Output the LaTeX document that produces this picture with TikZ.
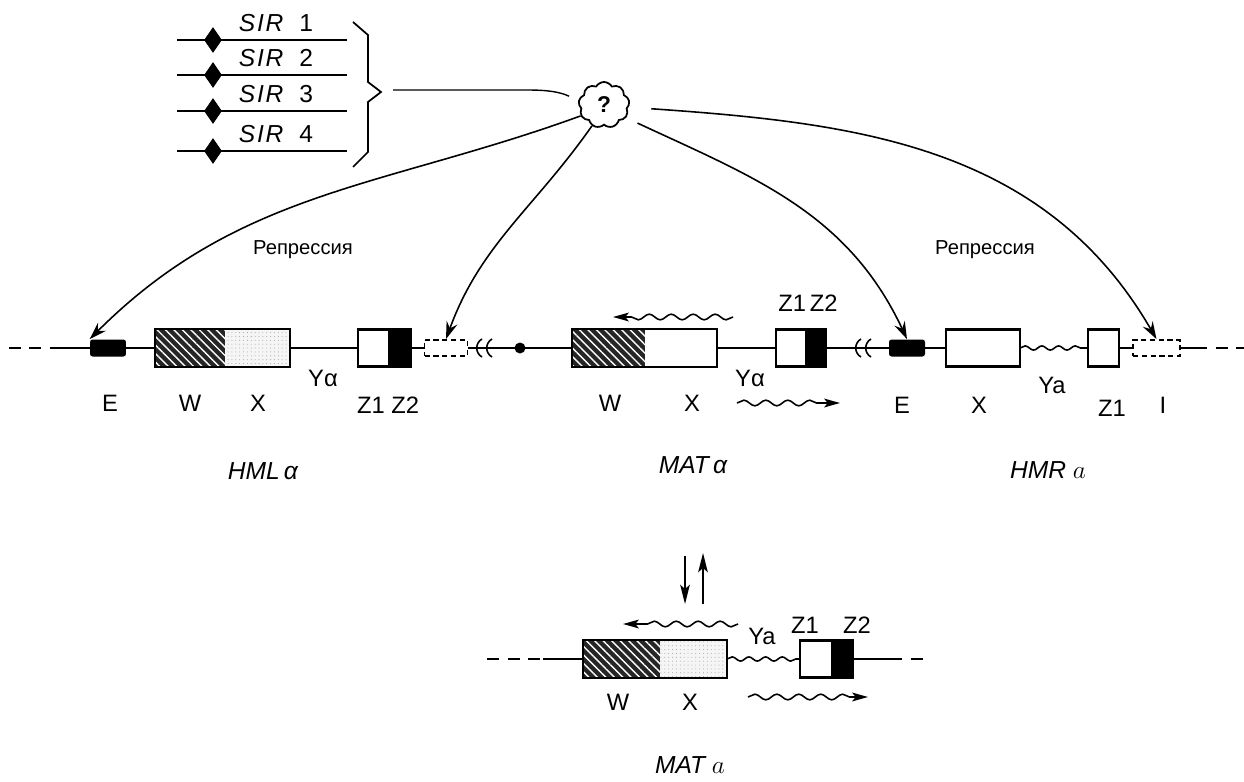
\documentclass[tikz,border=0pt]{standalone}
\usepackage{fontspec}
\setmainfont{Liberation Sans}
\usetikzlibrary{arrows.meta, positioning, backgrounds, shapes.geometric, shapes.symbols, patterns.meta, decorations.pathmorphing}

\begin{document}
\begin{tikzpicture}[
    x = 0.02cm,
    y = 0.02cm,
    every node/.style = {font=\fontsize{13.5}{15}\selectfont, inner sep=1pt},
    chrom/.style = {line width=1.2pt},
    chromdash/.style = {line width=1.2pt, dash pattern=on 0.24cm off 0.17cm},
    ybit/.style = {
        line width=0.9pt,
        decorate,
        decoration={snake, amplitude=1.2pt, segment length=9.5pt}
    },
    blk/.style = {
        rectangle,
        inner sep=0pt,
        outer sep=0pt,
        minimum height=0.76cm
    },
    hatch/.style = {
        blk,
        preaction={fill=black!85},
        pattern={Lines[angle=-45, distance=3.4pt, line width=0.8pt]},
        pattern color=white
    },
    stipple/.style = {
        blk,
        preaction={fill=gray!8},
        pattern={Dots[distance=2.2pt, radius=0.3pt]},
        pattern color=gray!70
    },
    plainbox/.style = {blk, fill=white},
    wxframe/.style = {line width=1.6pt},
    zbox/.style = {
        rectangle,
        draw,
        fill=white,
        line width=1.6pt,
        inner sep=0pt,
        outer sep=0pt,
        minimum width=0.62cm,
        minimum height=0.74cm
    },
    zdark/.style = {zbox, fill=black, minimum width=0.44cm},
    enh/.style = {
        rectangle,
        fill=black,
        rounded corners=1.5pt,
        inner sep=0pt,
        minimum width=0.72cm,
        minimum height=0.34cm
    },
    sil/.style = {
        rectangle,
        draw,
        fill=white,
        dash pattern=on 3pt off 2pt,
        line width=1pt,
        inner sep=0pt,
        minimum width=0.86cm,
        minimum height=0.32cm
    },
    locus/.style = {font=\fontsize{14}{16}\selectfont\itshape},
    rep/.style = {
        -{Stealth[length=10pt, width=6.5pt, inset=3.5pt]},
        line width=0.9pt
    },
    tx/.style = {
        -{Stealth[length=9pt, width=5pt, inset=2pt]},
        line width=0.9pt,
        decorate,
        decoration={snake, amplitude=1.6pt, segment length=12.5pt, post length=9pt}
    },
    switch/.style = {
        -{Stealth[length=11pt, width=5.5pt, inset=2.5pt]},
        line width=1pt
    }
]

\useasboundingbox (0,0) rectangle (1244,-781);

%% SIR genes
\foreach \y/\n in {40/1, 75/2, 111/3, 151/4} {
    \draw[line width=0.8pt] (177,-\y) -- (347,-\y);
    \node[diamond, fill=black, inner sep=0pt, minimum width=0.36cm, minimum height=0.52cm]
        (sirdia\n) at (213,-\y) {};
    \node[font=\fontsize{14}{16}\selectfont] (sir\n) at (276,-\y+17)
        {\textit{S\kern1pt I\kern1pt R}\hspace{9pt}\n};
}

%% Brace and the common product
\coordinate (brtip) at (381,-92);
\draw[line width=1pt] (353,-22) -- (368,-35) -- (368,-82) -- (brtip)
    -- (368,-102) -- (368,-152) -- (353,-167);
\node[cloud, draw, line width=1pt, cloud puffs=9, cloud puff arc=120, aspect=1.1,
      inner sep=0pt, minimum width=1.02cm, minimum height=0.92cm,
      font=\fontsize{13}{15}\selectfont\bfseries] (qcloud) at (604,-105) {?};
\coordinate (brout) at (393,-90);
\draw[line width=0.8pt, shorten >=0.2cm] (brout) -- (527,-90) to[out=0, in=155] (qcloud.170);

%% HML alpha
\node[enh]                                    (hmlE)  at (108,-348) {};
\node[hatch, minimum width=1.4cm]             (hmlW)  at (190,-348) {};
\node[stipple, minimum width=1.3cm, right=0pt of hmlW] (hmlX) {};
\node[zbox]                                   (hmlZ1) at (373.5,-348) {};
\node[zdark, right=0pt of hmlZ1]              (hmlZ2) {};
\node[sil]                                    (hmlI)  at (446,-348) {};
\draw[wxframe] (hmlW.north west) rectangle (hmlX.south east);

%% MAT alpha
\node[circle, fill=black, inner sep=0pt, minimum size=0.22cm] (cen) at (520,-348) {};
\node[hatch, minimum width=1.46cm]            (matW)  at (608.5,-348) {};
\node[plainbox, minimum width=1.44cm, right=0pt of matW] (matX) {};
\node[zbox, minimum width=0.6cm]              (matZ1) at (791,-348) {};
\node[zdark, minimum width=0.4cm, right=0pt of matZ1] (matZ2) {};
\draw[wxframe] (matW.north west) rectangle (matX.south east);

%% HMR a
\node[enh]                                    (hmrE)  at (907,-348) {};
\node[zbox, minimum width=1.48cm]             (hmrX)  at (983,-348) {};
\node[zbox]                                   (hmrZ)  at (1103.5,-348) {};
\node[sil, minimum width=0.94cm]              (hmrI)  at (1156.5,-348) {};

%% MAT a
\node[hatch, minimum width=1.54cm]            (aW)    at (621.5,-659) {};
\node[stipple, minimum width=1.34cm, right=0pt of aW] (aX) {};
\node[zbox, minimum width=0.64cm]             (aZ1)   at (816,-659) {};
\node[zdark, minimum width=0.42cm, right=0pt of aZ1] (aZ2) {};
\draw[wxframe] (aW.north west) rectangle (aX.south east);

%% Chromosome lines
\begin{scope}[on background layer]
    \draw[chromdash] (9,-348) -- (55,-348);
    \draw[chrom] (55,-348) -- (hmrX.center);
    \draw[ybit] (hmrX.east) -- (hmrZ.west);
    \draw[chrom] (hmrZ.center) -- (1195,-348);
    \draw[chromdash] (1195,-348) -- (1244,-348);
    \draw[chromdash] (487,-659) -- (543,-659);
    \draw[chrom] (543,-659) -- (aX.center);
    \draw[ybit] (aX.east) -- (aZ1.west);
    \draw[chrom] (aZ2.center) -- (890,-659);
    \draw[chromdash] (890,-659) -- (930,-659);
\end{scope}

%% Breaks in the line
\foreach \bx in {479, 489, 858, 868}
    \draw[line width=0.9pt] (\bx+3,-339) .. controls (\bx-4,-343) and (\bx-4,-353) .. (\bx+3,-357);

%% Repression arrows
\draw[rep] (qcloud.205) to[out=200, in=45] (hmlE.north west);
\draw[rep] (qcloud.240) to[out=235, in=70] (hmlI.north);
\draw[rep, shorten <=0.25cm] (qcloud.-30) to[out=-25, in=115] (hmrE.north);
\draw[rep, shorten <=0.45cm] (qcloud.-5) to[out=-4, in=120] (hmrI.north);
\node[font=\fontsize{11.5}{13}\selectfont] (rep1) at (303,-250) {Репрессия};
\node[font=\fontsize{11.5}{13}\selectfont] (rep2) at (985,-250) {Репрессия};

%% Labels
\node (lhE)  at (110,-403) {E};
\node (lhW)  at (190,-403) {W};
\node (lhX)  at (258,-403) {X};
\node (lhY)  at (323,-378) {Yα};
\node (lhZ)  at (388,-405) {Z1 Z2};
\node[locus] (hml) at (263,-471) {HML\,α};

\node (lmW)  at (610,-403) {W};
\node (lmX)  at (692,-403) {X};
\node (lmY)  at (750,-378) {Yα};
\node (lmZ)  at (808,-303) {Z1\,Z2};
\node[locus] (mata) at (693,-465) {MAT\,α};

\node (lrE)  at (902,-405) {E};
\node (lrX)  at (979,-405) {X};
\node (lrY)  at (1052,-385) {Ya};
\node (lrZ)  at (1112,-408) {Z1};
\node (lrI)  at (1163,-405) {I};
\node[locus] (hmr) at (1048,-470) {HMR $a$};

\node (laY)  at (762,-636) {Ya};
\node (laZ1) at (805,-625) {Z1};
\node (laZ2) at (857,-625) {Z2};
\node (laW)  at (618,-702) {W};
\node (laX)  at (690,-702) {X};
\node[locus] (mat) at (690,-765) {MAT $a$};

%% Transcripts
\coordinate (t1s) at (733,-317);
\coordinate (t1e) at (613,-317);
\coordinate (t2s) at (737,-403);
\coordinate (t2e) at (840,-403);
\coordinate (t3s) at (738,-624);
\coordinate (t3e) at (623,-624);
\coordinate (t4s) at (748,-697);
\coordinate (t4e) at (868,-697);
\draw[tx] (t1s) -- (t1e);
\draw[tx] (t2s) -- (t2e);
\draw[tx] (t3s) -- (t3e);
\draw[tx] (t4s) -- (t4e);

%% Switching
\coordinate (dnA) at (685,-556);
\coordinate (dnB) at (685,-604);
\coordinate (upA) at (703,-604);
\coordinate (upB) at (703,-553);
\draw[switch] (dnA) -- (dnB);
\draw[switch] (upA) -- (upB);

\end{tikzpicture}
\end{document}
